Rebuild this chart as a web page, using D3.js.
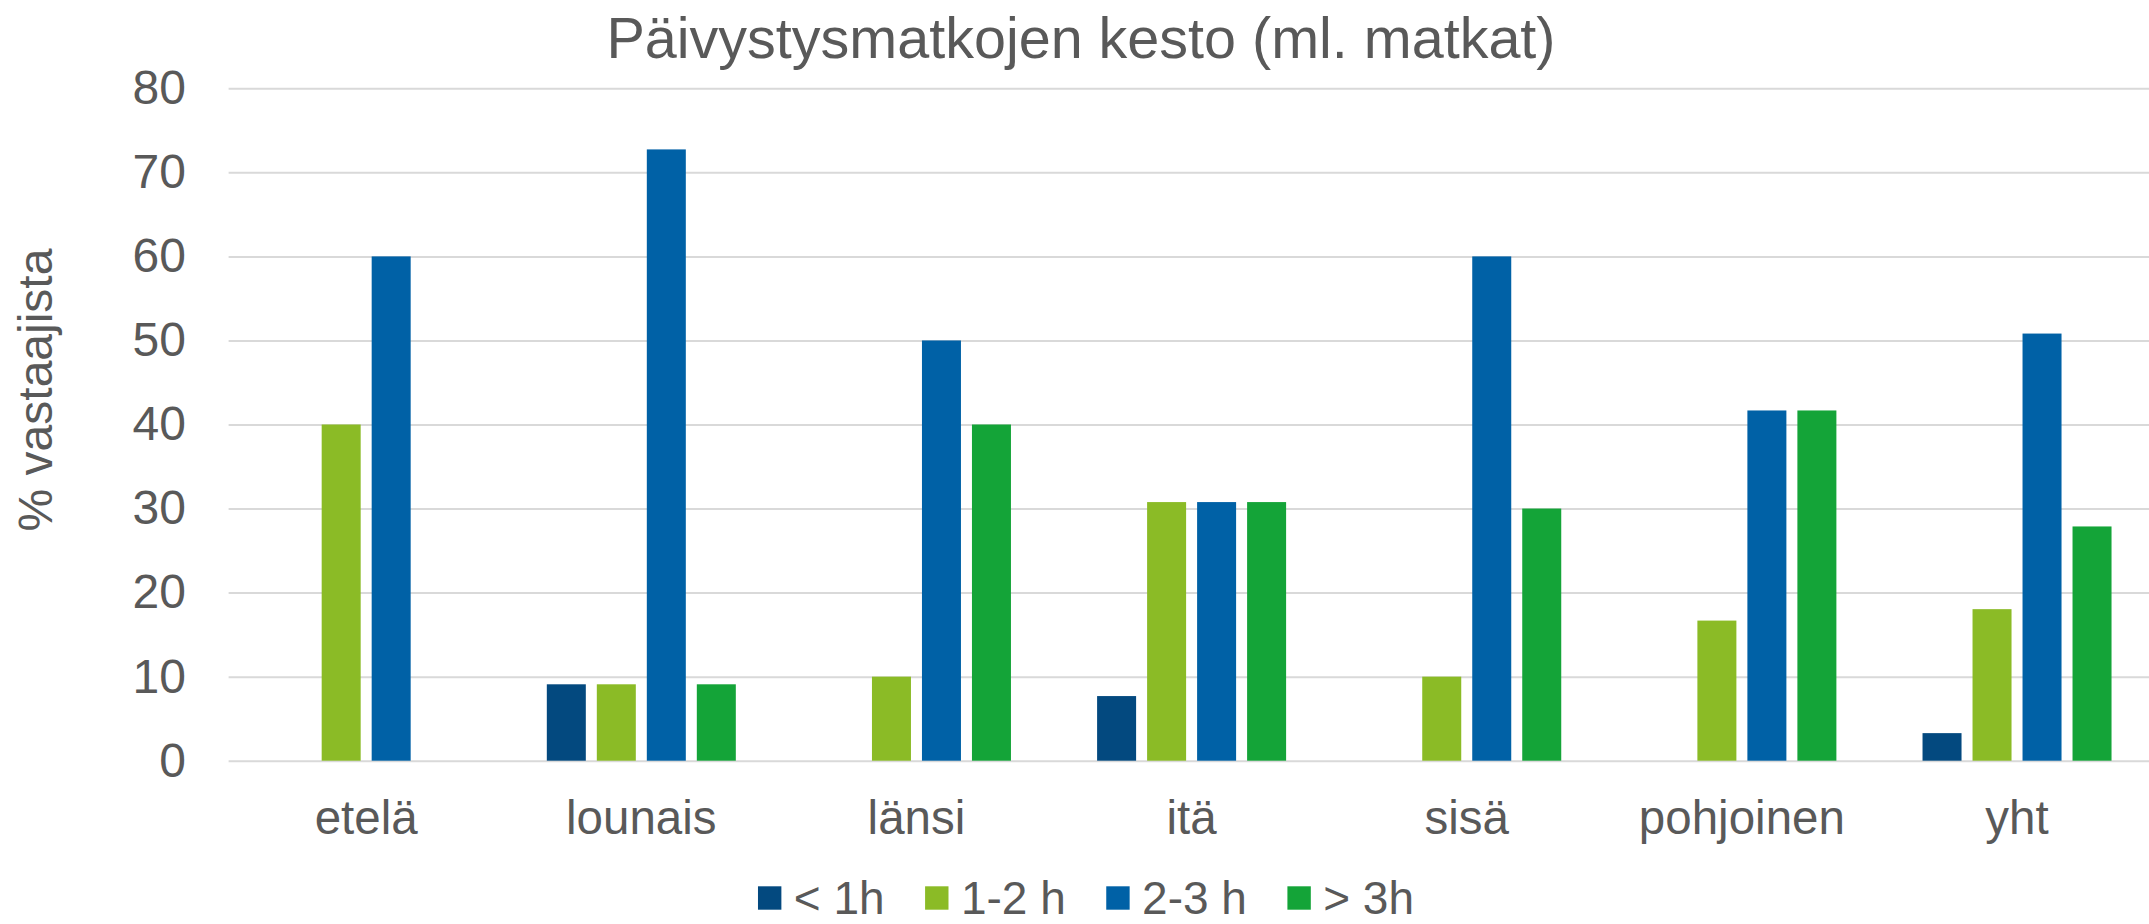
<!DOCTYPE html>
<html>
<head>
<meta charset="utf-8">
<script src="https://cdnjs.cloudflare.com/ajax/libs/d3/7.8.5/d3.min.js"></script>
<style>
  html, body { margin: 0; padding: 0; background: #ffffff; }
  svg { display: block; font-family: "Liberation Sans", Arial, sans-serif; }
</style>
</head>
<body>
<svg id="chart" width="2149" height="924"></svg>
<script>
// ---- data ----
const categories = ["etelä", "lounais", "länsi", "itä", "sisä", "pohjoinen", "yht"];
const seriesNames = ["< 1h", "1-2 h", "2-3 h", "> 3h"];
const seriesColors = ["#03497F", "#8BBB26", "#0061A6", "#14A438"];
const valuesLt1h = [0, 9.09, 0, 7.69, 0, 0, 3.28];
const values1to2 = [40, 9.09, 10, 30.77, 10, 16.67, 18.03];
const values2to3 = [60, 72.73, 50, 30.77, 60, 41.67, 50.82];
const valuesGt3h = [0, 9.09, 40, 30.77, 30, 41.67, 27.87];
const yTicks = [0, 10, 20, 30, 40, 50, 60, 70, 80];
const titleText = "Päivystysmatkojen kesto (ml. matkat)";
const yAxisTitle = "% vastaajista";

const seriesValues = [valuesLt1h, values1to2, values2to3, valuesGt3h];

// ---- layout ----
const textColor = "#595959";
const gridColor = "#D9D9D9";
const plotLeft = 228.6, plotRight = 2154.6, plotTop = 88.3, plotBottom = 760.7;

const svg = d3.select("#chart");

const x0 = d3.scaleBand().domain(categories).range([plotLeft, plotRight]).paddingInner(0).paddingOuter(0);
const groupW = 189;
const x1 = d3.scaleBand().domain(seriesNames).range([-groupW / 2, groupW / 2]).paddingInner(0.22).paddingOuter(0);
const y = d3.scaleLinear().domain([0, 80]).range([plotBottom, plotTop]);

// title
svg.append("text")
  .attr("x", 1081).attr("y", 58)
  .attr("text-anchor", "middle")
  .attr("fill", textColor)
  .attr("font-size", 57.5)
  .text(titleText);

// y axis with gridlines
const yAxis = svg.append("g")
  .attr("transform", `translate(${plotLeft},0)`)
  .call(d3.axisLeft(y).tickValues(yTicks).tickSize(-(plotRight - plotLeft)).tickPadding(42.6).tickFormat(d3.format("d")));
yAxis.select(".domain").remove();
yAxis.selectAll(".tick line").attr("stroke", gridColor).attr("stroke-width", 2);
yAxis.selectAll(".tick text")
  .attr("fill", textColor)
  .attr("font-size", 48)
  .attr("font-family", "Liberation Sans, Arial, sans-serif");

// y axis title
svg.append("text")
  .attr("transform", `translate(52,390) rotate(-90)`)
  .attr("text-anchor", "middle")
  .attr("fill", textColor)
  .attr("font-size", 48)
  .text(yAxisTitle);

// bars
const barData = [];
categories.forEach((c, ci) => {
  seriesNames.forEach((s, si) => {
    barData.push({ cat: c, ser: s, si: si, value: seriesValues[si][ci] });
  });
});

svg.append("g").selectAll("rect")
  .data(barData.filter(d => d.value > 0))
  .join("rect")
  .attr("x", d => x0(d.cat) + x0.bandwidth() / 2 + x1(d.ser))
  .attr("width", x1.bandwidth())
  .attr("y", d => y(d.value))
  .attr("height", d => y(0) - y(d.value))
  .attr("fill", d => seriesColors[d.si]);

// x axis labels
const xAxis = svg.append("g")
  .attr("transform", `translate(0,${plotBottom})`)
  .call(d3.axisBottom(x0).tickSize(0).tickPadding(39.6));
xAxis.select(".domain").remove();
xAxis.selectAll(".tick text")
  .attr("fill", textColor)
  .attr("font-size", 47.5)
  .attr("font-family", "Liberation Sans, Arial, sans-serif");

// legend
const legend = svg.append("g");
const sq = 23.4, gapText = 12.4, gapItem = 40.5;
let cx = 0;
seriesNames.forEach((s, i) => {
  const g = legend.append("g");
  g.append("rect").attr("x", 0).attr("y", -sq / 2).attr("width", sq).attr("height", sq).attr("fill", seriesColors[i]);
  const t = g.append("text").attr("x", sq + gapText).attr("y", 0).attr("dy", "0.35em")
    .attr("fill", textColor).attr("font-size", 46).text(s);
  const w = t.node().getComputedTextLength();
  g.attr("transform", `translate(${cx},0)`);
  cx += sq + gapText + w + gapItem;
});
const legendW = cx - gapItem;
legend.attr("transform", `translate(${1086 - legendW / 2},898)`);
</script>
</body>
</html>
